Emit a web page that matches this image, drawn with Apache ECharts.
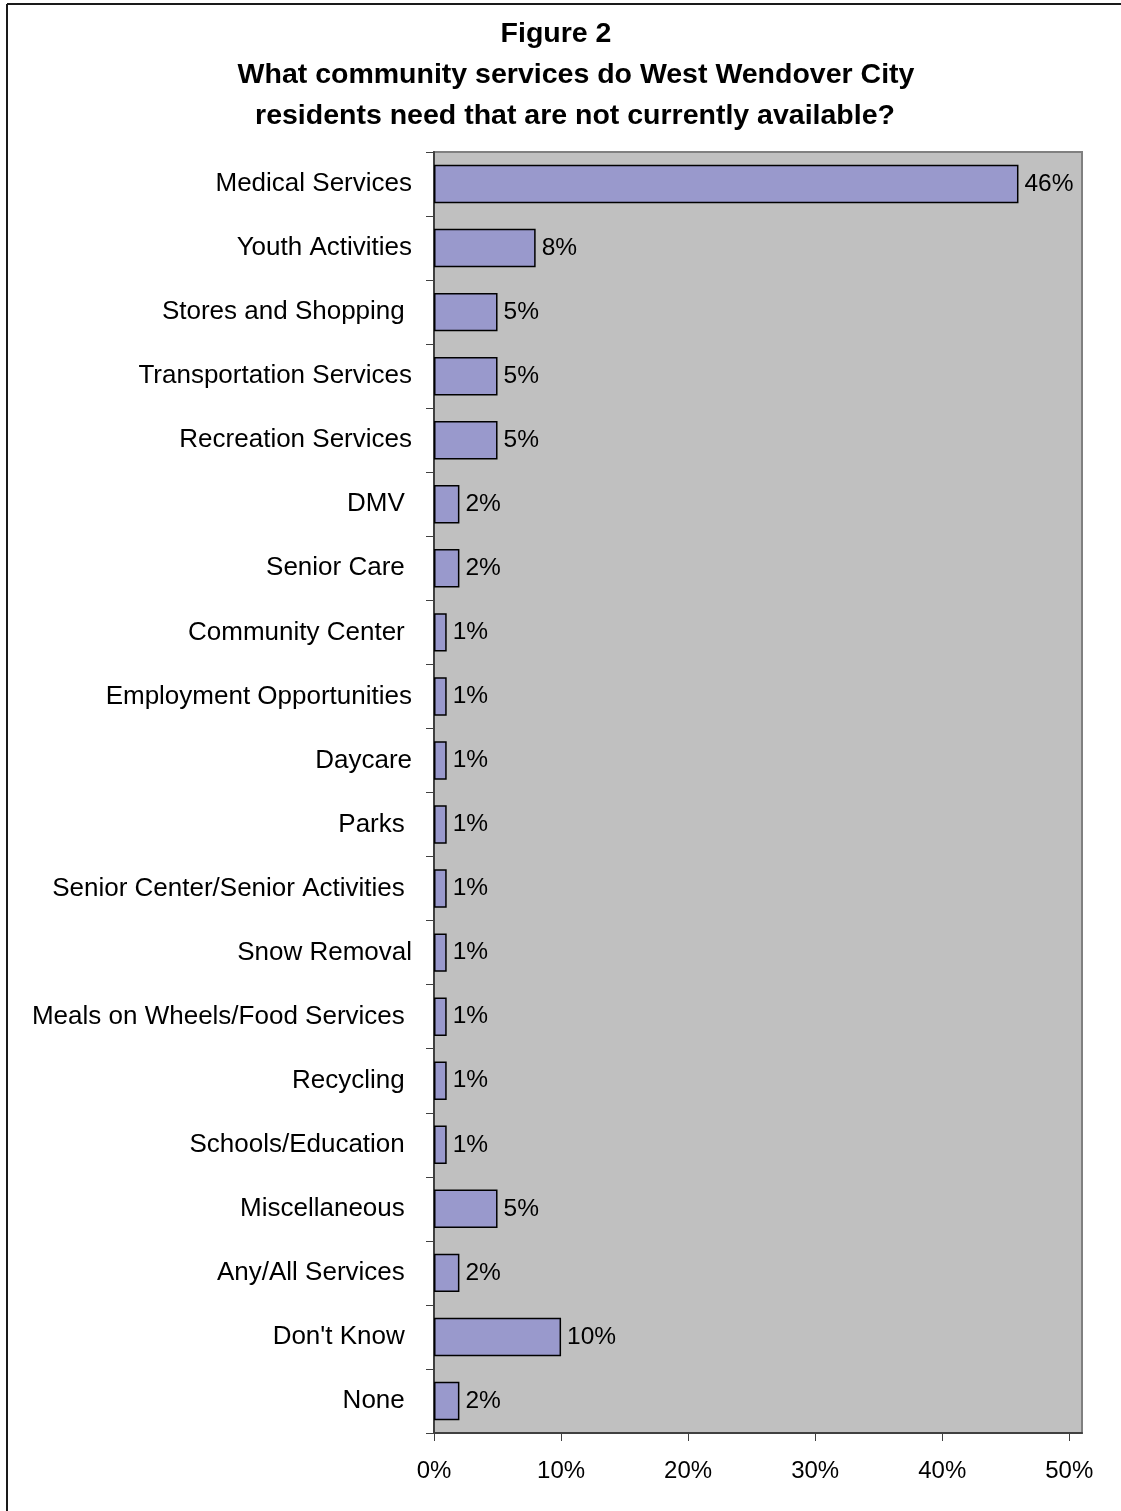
<!DOCTYPE html>
<html>
<head>
<meta charset="utf-8">
<title>Figure 2</title>
<script src="https://cdn.jsdelivr.net/npm/echarts@6/dist/echarts.min.js"></script>
<style>
  html, body { margin: 0; padding: 0; background: #ffffff; }
  #chart { width: 1121px; height: 1511px; }
</style>
</head>
<body>
<div id="chart"></div>
<script>
// Survey responses: services residents say are missing (percent of respondents)
const categories = [
  'Medical Services',
  'Youth Activities',
  'Stores and Shopping ',
  'Transportation Services',
  'Recreation Services',
  'DMV ',
  'Senior Care ',
  'Community Center ',
  'Employment Opportunities',
  'Daycare',
  'Parks ',
  'Senior Center/Senior Activities ',
  'Snow Removal',
  'Meals on Wheels/Food Services ',
  'Recycling ',
  'Schools/Education ',
  'Miscellaneous ',
  'Any/All Services ',
  "Don't Know ",
  'None '
];
const percentages = [46, 8, 5, 5, 5, 2, 2, 1, 1, 1, 1, 1, 1, 1, 1, 1, 5, 2, 10, 2];
const tickValues = [0, 10, 20, 30, 40, 50];

const titleLines = [
  'Figure 2',
  'What community services do West Wendover City',
  'residents need that are not currently available?'
];
// horizontal centre and top of each heading line
const titleCenters = [556, 576, 575];
const titleTops = [20, 61, 102];

const FONT = '"Liberation Sans", Arial, sans-serif';

const chart = echarts.init(document.getElementById('chart'), null, { renderer: 'canvas' });

chart.setOption({
  backgroundColor: '#ffffff',
  animation: false,
  title: titleLines.map((line, i) => ({
    text: line,
    left: titleCenters[i],
    top: titleTops[i],
    textAlign: 'center',
    padding: 0,
    textStyle: {
      fontFamily: FONT,
      fontSize: 28.5,
      fontWeight: 'bold',
      color: '#000000'
    }
  })),
  graphic: [
    // frame lines along the top and left edges
    { type: 'line', shape: { x1: 7, y1: 4, x2: 1121, y2: 4 }, style: { stroke: '#1a1a1a', lineWidth: 2 }, z: 10 },
    { type: 'line', shape: { x1: 7, y1: 4, x2: 7, y2: 1511 }, style: { stroke: '#1a1a1a', lineWidth: 2 }, z: 10 }
  ],
  grid: {
    left: 434,
    top: 152,
    right: 39,
    bottom: 78,
    show: true,
    backgroundColor: '#C0C0C0',
    borderColor: '#808080',
    borderWidth: 2
  },
  xAxis: {
    type: 'value',
    min: 0,
    max: 51,
    interval: 10,
    splitLine: { show: false },
    axisLine: { show: true, lineStyle: { color: '#404040', width: 2 } },
    axisTick: {
      show: true,
      length: 8,
      customValues: tickValues,
      lineStyle: { color: '#404040', width: 1 }
    },
    axisLabel: {
      customValues: tickValues,
      formatter: '{value}%',
      margin: 26,
      fontFamily: FONT,
      fontSize: 24,
      color: '#000000'
    }
  },
  yAxis: {
    type: 'category',
    data: categories,
    inverse: true,
    axisLine: { show: true, lineStyle: { color: '#404040', width: 2 } },
    axisTick: {
      show: true,
      length: 8,
      alignWithLabel: false,
      lineStyle: { color: '#404040', width: 1 }
    },
    axisLabel: {
      margin: 22,
      fontFamily: FONT,
      fontSize: 26,
      color: '#000000'
    },
    splitLine: { show: false }
  },
  series: [{
    type: 'bar',
    data: percentages,
    barWidth: '60%',
    itemStyle: {
      color: '#9999CC',
      borderColor: '#000000',
      borderWidth: 1.5
    },
    label: {
      show: true,
      position: 'right',
      distance: 6,
      formatter: '{c}%',
      fontFamily: FONT,
      fontSize: 24.5,
      color: '#000000'
    }
  }]
});
</script>
</body>
</html>
